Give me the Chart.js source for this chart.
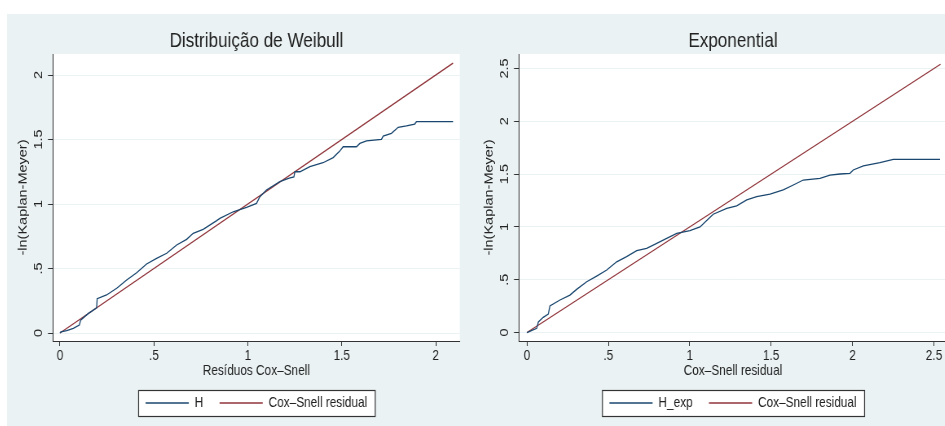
<!DOCTYPE html>
<html>
<head>
<meta charset="utf-8">
<script src="https://cdn.jsdelivr.net/npm/chart.js@4.4.1/dist/chart.umd.min.js"></script>
<style>
  html, body { margin: 0; padding: 0; background: #fff; overflow: hidden; }
  body { width: 945px; height: 426px; position: relative; }
  #bg { position: absolute; left: 7px; top: 14px; width: 938px; height: 412px; background: #EAF2F3; }
  /* the original graph is squeezed horizontally; draw wide and squeeze the same way */
  canvas { position: absolute; top: 14px; transform: scaleX(0.815); transform-origin: 0 0; }
  #weibull { left: 7px; }
  #expo { left: 473px; }
</style>
</head>
<body>
<div id="bg"></div>
<canvas id="weibull" width="612" height="412"></canvas>
<canvas id="expo" width="638" height="412"></canvas>
<script>
// ---------- Data ----------
const weibullX = [0, 0.005, 0.036, 0.071, 0.103, 0.110, 0.150, 0.195, 0.198, 0.248, 0.302, 0.355, 0.408, 0.461,
  0.514, 0.568, 0.621, 0.674, 0.709, 0.762, 0.834, 0.851, 0.922, 0.993, 1.046, 1.064, 1.099, 1.170, 1.220,
  1.245, 1.250, 1.277, 1.330, 1.400, 1.454, 1.489, 1.507, 1.578, 1.596, 1.631, 1.711, 1.720, 1.764, 1.800,
  1.844, 1.888, 1.897, 2.092];
const weibullH = [0, 0.008, 0.018, 0.036, 0.062, 0.100, 0.150, 0.195, 0.266, 0.295, 0.347, 0.411, 0.467, 0.535,
  0.579, 0.618, 0.682, 0.726, 0.773, 0.804, 0.871, 0.889, 0.940, 0.974, 1.005, 1.057, 1.109, 1.173, 1.200,
  1.210, 1.250, 1.250, 1.290, 1.320, 1.360, 1.410, 1.444, 1.444, 1.470, 1.490, 1.501, 1.527, 1.548, 1.595,
  1.605, 1.620, 1.638, 1.638];
const weibullCs = [0, 2.092];

const expX = [0, 0.060, 0.070, 0.100, 0.131, 0.141, 0.203, 0.264, 0.305, 0.367, 0.428, 0.490, 0.551, 0.612,
  0.674, 0.735, 0.797, 0.858, 0.920, 1.001, 1.063, 1.104, 1.144, 1.227, 1.288, 1.350, 1.411, 1.493, 1.574,
  1.636, 1.697, 1.800, 1.861, 1.923, 1.984, 2.004, 2.066, 2.168, 2.250, 2.537];
const expH = [0, 0.040, 0.100, 0.144, 0.175, 0.251, 0.308, 0.355, 0.409, 0.481, 0.535, 0.592, 0.670, 0.718,
  0.775, 0.797, 0.845, 0.892, 0.939, 0.964, 1.000, 1.060, 1.120, 1.176, 1.200, 1.255, 1.286, 1.310, 1.350,
  1.397, 1.444, 1.460, 1.491, 1.501, 1.507, 1.539, 1.577, 1.608, 1.640, 1.640];
const expCs = [0, 2.54];

const weibullXTicks = [0, 0.5, 1, 1.5, 2];
const weibullXLabels = ['0', '.5', '1', '1.5', '2'];
const weibullYTicks = [0, 0.5, 1, 1.5, 2];
const weibullYLabels = ['0', '.5', '1', '1.5', '2'];
const expXTicks = [0, 0.5, 1, 1.5, 2, 2.5];
const expXLabels = ['0', '.5', '1', '1.5', '2', '2.5'];
const expYTicks = [0, 0.5, 1, 1.5, 2, 2.5];
const expYLabels = ['0', '.5', '1', '1.5', '2', '2.5'];

const COLORS = {
  navy: '#1A476F',
  maroon: '#90353B',
  grid: '#EAF2F3',
  axis: '#333333',
  text: '#222222',
};
const FONT = "'Liberation Sans', Arial, sans-serif";
const SIDE = 56.4; // y-axis width, and the empty axis on the right

const pts = (xs, ys) => xs.map((x, i) => ({ x, y: ys[i] }));

// white plot region + framed legend, drawn before the library's boxes
const stataBoxes = {
  id: 'stataBoxes',
  beforeDraw(chart) {
    const { ctx, chartArea: a, legend } = chart;
    ctx.save();
    ctx.fillStyle = '#fff';
    ctx.fillRect(a.left, a.top, a.right - a.left, a.bottom - a.top);
    const hb = legend.legendHitBoxes;
    if (hb && hb.length) {
      const l = Math.min(...hb.map(h => h.left)) - 8.6;
      const r = Math.max(...hb.map(h => h.left + h.width)) + 9.8;
      const cy = hb[0].top + hb[0].height / 2;
      ctx.fillRect(l, cy - 13, r - l, 26);
      ctx.strokeStyle = COLORS.axis;
      ctx.lineWidth = 1.2;
      ctx.strokeRect(l, Math.round(cy - 13) + 0.5, r - l, 26);
    }
    ctx.restore();
  },
};

function makePanel(id, cfg) {
  const tickSet = (vals) => (s) => { s.ticks = vals.map(v => ({ value: v })); };
  new Chart(document.getElementById(id), {
    type: 'scatter',
    data: {
      datasets: [
        { label: cfg.hLabel, data: pts(cfg.x, cfg.h), showLine: true, borderColor: COLORS.navy, borderWidth: 1.3, pointRadius: 0 },
        { label: 'Cox\u2013Snell residual', data: pts(cfg.cs, cfg.cs), showLine: true, borderColor: COLORS.maroon, borderWidth: 1.3, pointRadius: 0 },
      ],
    },
    plugins: [stataBoxes],
    options: {
      responsive: false,
      animation: false,
      events: [],
      layout: { padding: { bottom: 5.75 } },
      plugins: {
        tooltip: { enabled: false },
        title: {
          display: true,
          text: cfg.title,
          color: COLORS.text,
          font: { family: FONT, size: 21, weight: 'normal' },
          padding: { top: 14.4, bottom: 0.4 },
        },
        legend: {
          position: 'bottom',
          labels: {
            color: COLORS.text,
            font: { family: FONT, size: 14.5 },
            usePointStyle: true,
            pointStyle: 'line',
            pointStyleWidth: 53,
            padding: 20,
          },
        },
      },
      scales: {
        x: {
          type: 'linear',
          min: cfg.xMin, max: cfg.xMax,
          afterBuildTicks: tickSet(cfg.xTicks),
          afterFit: (s) => { s.height = 34.75; },
          grid: { drawOnChartArea: false, tickColor: COLORS.axis, tickLength: 5 },
          border: { color: COLORS.axis },
          ticks: {
            color: COLORS.text, font: { family: FONT, size: 14.5 }, padding: 1, maxRotation: 0,
            callback: (v) => cfg.xLabels[cfg.xTicks.indexOf(v)],
          },
          title: {
            display: true, text: cfg.xTitle, color: COLORS.text,
            font: { family: FONT, size: 14.5 }, padding: { top: 0, bottom: -3.45 },
          },
        },
        y: {
          type: 'linear',
          min: cfg.yMin, max: cfg.yMax,
          afterBuildTicks: tickSet(cfg.yTicks),
          afterFit: (s) => { s.width = SIDE; },
          grid: { color: COLORS.grid, tickColor: COLORS.axis, tickLength: 6.1 },
          border: { color: COLORS.axis },
          ticks: {
            color: COLORS.text, font: { family: FONT, size: 14.5 }, padding: 1.5,
            minRotation: 90, crossAlign: 'center',
            callback: (v) => cfg.yLabels[cfg.yTicks.indexOf(v)],
          },
          title: {
            display: true, text: '-ln(Kaplan-Meyer)', color: COLORS.text,
            font: { family: FONT, size: 14.5 }, padding: { top: 10.9, bottom: 0 },
          },
        },
        // empty right-hand axis so title and legend centre on the plot region
        yR: {
          type: 'linear', position: 'right', display: true,
          afterFit: (s) => { s.width = SIDE; },
          grid: { display: false }, border: { display: false }, ticks: { display: false },
        },
      },
    },
  });
}

makePanel('weibull', {
  title: 'Distribui\u00e7\u00e3o de Weibull',
  xTitle: 'Res\u00edduos Cox\u2013Snell',
  hLabel: 'H',
  x: weibullX, h: weibullH, cs: weibullCs,
  xMin: -0.0372, xMax: 2.128, yMin: -0.062, yMax: 2.163,
  xTicks: weibullXTicks, xLabels: weibullXLabels,
  yTicks: weibullYTicks, yLabels: weibullYLabels,
});

makePanel('expo', {
  title: 'Exponential',
  xTitle: 'Cox\u2013Snell residual',
  hLabel: 'H_exp',
  x: expX, h: expH, cs: expCs,
  xMin: -0.049, xMax: 2.58, yMin: -0.08, yMax: 2.637,
  xTicks: expXTicks, xLabels: expXLabels,
  yTicks: expYTicks, yLabels: expYLabels,
});
</script>
</body>
</html>
